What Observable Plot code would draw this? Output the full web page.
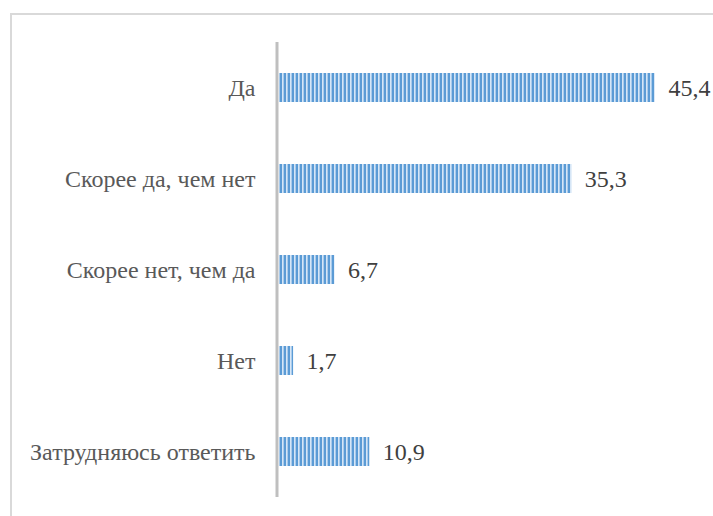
<!DOCTYPE html>
<html>
<head>
<meta charset="utf-8">
<script src="https://cdn.jsdelivr.net/npm/d3@7"></script>
<script src="https://cdn.jsdelivr.net/npm/@observablehq/plot@0.6"></script>
<style>
  html, body { margin: 0; padding: 0; background: #fff; }
  #wrap { position: relative; width: 713px; height: 516px; overflow: hidden; }
  #border { position: absolute; left: 10px; top: 13px; width: 720px; height: 600px; border: 2px solid #d9d9d9; box-sizing: border-box; pointer-events: none; }
  #chart { position: absolute; left: 0; top: 0; }
</style>
</head>
<body>
<div id="wrap"><div id="chart"></div><div id="border"></div></div>
<script>
const categories = ["Да", "Скорее да, чем нет", "Скорее нет, чем да", "Нет", "Затрудняюсь ответить"];
const values = [45.4, 35.3, 6.7, 1.7, 10.9];
const valueLabels = ["45,4", "35,3", "6,7", "1,7", "10,9"];

const data = categories.map((c, i) => ({cat: c, value: values[i], label: valueLabels[i]}));
const FS = 24;

const chart = Plot.plot({
  width: 713,
  height: 516,
  marginLeft: 279,
  marginRight: 20,
  marginTop: 42,
  marginBottom: 19,
  style: {fontFamily: "Liberation Serif", fontSize: FS + "px", background: "transparent"},
  x: {domain: [0, 50], axis: null},
  y: {domain: categories, paddingInner: 0.68, paddingOuter: 0.34, axis: null},
  marks: [
    Plot.barX(data, {x: "value", y: "cat", fill: "url(#stripes)"}),
    Plot.ruleX([0], {stroke: "#bfbfbf", strokeWidth: 3, dx: -2.5}),
    Plot.text(data, {x: 0, y: "cat", text: "cat", dx: -24, textAnchor: "end", fontSize: FS, fill: "#595959"}),
    Plot.text(data, {x: "value", y: "cat", text: "label", dx: 13, textAnchor: "start", fontSize: FS, fill: "#404040"})
  ]
});

const svg = d3.select(chart);
const defs = svg.insert("defs", ":first-child");
const pat = defs.append("pattern")
  .attr("id", "stripes")
  .attr("patternUnits", "userSpaceOnUse")
  .attr("width", 4)
  .attr("height", 4);
pat.append("rect").attr("width", 4).attr("height", 4).attr("fill", "#a9cbec");
pat.append("rect").attr("width", 2).attr("height", 4).attr("fill", "#5b9bd5");
pat.append("rect").attr("x", 2).attr("width", 1).attr("height", 4).attr("fill", "#d6e6f6");

document.getElementById("chart").appendChild(chart);
</script>
</body>
</html>
